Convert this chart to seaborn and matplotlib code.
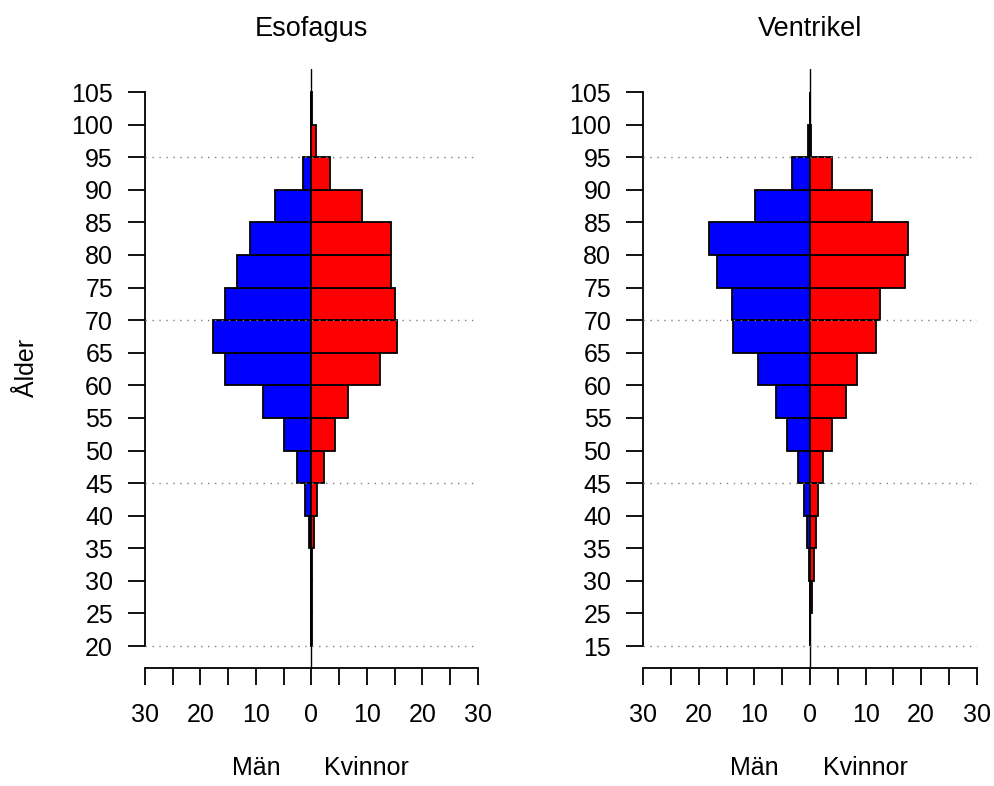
"""
Age pyramids for Esofagus and Ventrikel (Män vs Kvinnor)
"""

import numpy as np
import pandas as pd
import matplotlib
matplotlib.use('Agg')
import matplotlib.pyplot as plt
import matplotlib.transforms as mtransforms
import seaborn as sns

# lower bound of each 5-year age band
age_start = [20, 25, 30, 35, 40, 45, 50, 55, 60, 65, 70, 75, 80, 85, 90, 95, 100]

# Esofagus
eso_men = [0.05, 0.05, 0.05, 0.45, 1.1, 2.6, 5.0, 8.7, 15.5, 17.7, 15.6, 13.4, 11.05, 6.5, 1.55, 0.05, 0.05]
eso_women = [0.05, 0.15, 0.1, 0.55, 0.95, 2.35, 4.2, 6.6, 12.3, 15.5, 15.15, 14.4, 14.3, 9.2, 3.4, 0.8, 0.1]

# Ventrikel
ven_men = [0.0, 0.05, 0.2, 0.54, 1.08, 2.1, 4.15, 6.1, 9.3, 13.9, 14.0, 16.7, 18.1, 9.85, 3.25, 0.3, 0.0]
ven_women = [0.0, 0.3, 0.65, 1.0, 1.5, 2.3, 4.0, 6.4, 8.5, 11.8, 12.65, 17.15, 17.6, 11.1, 4.0, 0.2, 0.0]

titles = ['Esofagus', 'Ventrikel']
y_ticks = [20, 25, 30, 35, 40, 45, 50, 55, 60, 65, 70, 75, 80, 85, 90, 95, 100, 105]
y_labels_eso = ['20', '25', '30', '35', '40', '45', '50', '55', '60', '65',
                '70', '75', '80', '85', '90', '95', '100', '105']
y_labels_ven = ['15', '25', '30', '35', '40', '45', '50', '55', '60', '65',
                '70', '75', '80', '85', '90', '95', '100', '105']
x_ticks = [-30, -25, -20, -15, -10, -5, 0, 5, 10, 15, 20, 25, 30]
x_labels = ['30', '', '20', '', '10', '', '0', '', '10', '', '20', '', '30']
ref_lines = [20, 45, 70, 95]
side_labels = [(-10, 'Män'), (10, 'Kvinnor')]

sns.set_style('ticks')
plt.rcParams['font.family'] = ['Liberation Sans', 'DejaVu Sans']
plt.rcParams['text.color'] = 'black'
plt.rcParams['axes.labelcolor'] = 'black'

FS = 18


def draw_pyramid(ax, men, women, title, ylabels):
    df = pd.DataFrame({
        'mid': np.array(age_start) + 2.5,
        'men': -np.array(men),
        'women': np.array(women),
    })
    for col, colour in [('men', '#0000FF'), ('women', '#FF0000')]:
        sns.barplot(data=df, x=col, y='mid', orient='y', native_scale=True,
                    width=1, color=colour, saturation=1, edgecolor='black',
                    linewidth=1.3, errorbar=None, ax=ax, zorder=2)

    ax.axvline(0, color='black', lw=1.0, zorder=1)
    ax.hlines(ref_lines, -30, 30, colors='gray', linestyles=(0, (1, 4)),
              lw=1.0, zorder=5)

    ax.set_xlim(-30, 30)
    ax.set_ylim(16.63, 108.53)
    ax.set_xticks(x_ticks)
    ax.set_xticklabels(x_labels)
    ax.set_yticks(y_ticks)
    ax.set_yticklabels(ylabels)
    ax.set_xlabel('')
    ax.set_ylabel('')

    sns.despine(ax=ax)
    ax.spines['left'].set_bounds(20, 105)
    ax.spines['bottom'].set_bounds(-30, 30)
    for s in ['left', 'bottom']:
        ax.spines[s].set_linewidth(1.3)
        ax.spines[s].set_color('black')
    ax.tick_params(axis='both', direction='out', length=12, width=1.3,
                   labelsize=FS, colors='black')
    ax.tick_params(axis='y', pad=11)
    ax.tick_params(axis='x', pad=13)

    ax.set_title(title, fontsize=19.5, pad=24, color='black')

    trans = mtransforms.blended_transform_factory(ax.transData, ax.transAxes)
    for xpos, txt in side_labels:
        ax.text(xpos, -0.167, txt, transform=trans, ha='center', va='center',
                fontsize=FS)


fig = plt.figure(figsize=(9.94, 7.86), dpi=100)
ax1 = fig.add_axes([0.1459, 0.1501, 0.3347, 0.7621])
ax2 = fig.add_axes([0.6472, 0.1501, 0.3354, 0.7621])

draw_pyramid(ax1, eso_men, eso_women, titles[0], y_labels_eso)
draw_pyramid(ax2, ven_men, ven_women, titles[1], y_labels_ven)

fig.text(27 / 994, 1 - 368 / 786, 'Ålder', rotation=90, ha='center',
         va='center', fontsize=FS)

plt.savefig('out.png', dpi=100)
plt.close()
